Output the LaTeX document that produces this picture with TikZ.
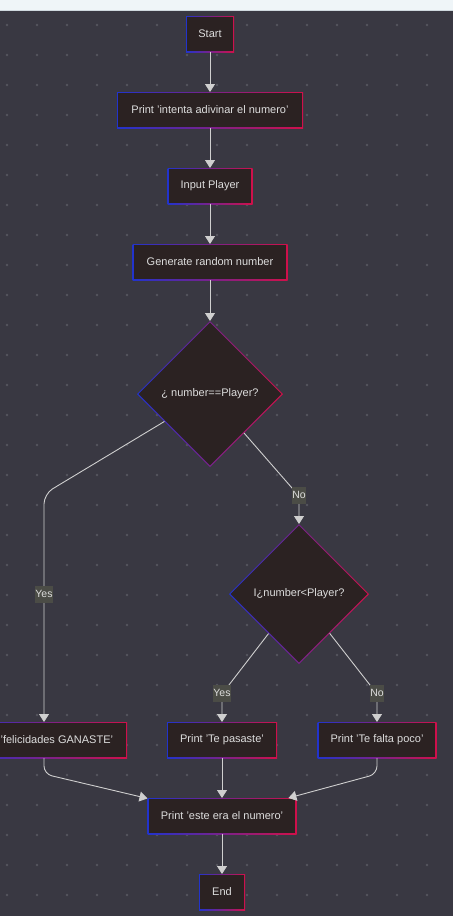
\documentclass[tikz,border=0pt]{standalone}
\usepackage{fontspec}
\setmainfont{Liberation Sans}
\usepackage{tikz}
\usetikzlibrary{shapes.geometric}
\usetikzlibrary{arrows.meta}
\definecolor{canvas}{HTML}{393842}
\definecolor{topbar}{HTML}{EFF5F8}
\definecolor{topline}{HTML}{CFD9DE}
\definecolor{dotcol}{HTML}{55555E}
\definecolor{nodefill}{HTML}{2B2222}
\definecolor{edgeblue}{HTML}{2233CC}
\definecolor{edgered}{HTML}{D0104A}
\definecolor{linecol}{HTML}{CFCFCF}
\definecolor{labelbg}{HTML}{4B4C46}
\definecolor{txtcol}{HTML}{DDDDDD}

\begin{document}
\begin{tikzpicture}[x=1pt,y=-1pt]

\tikzstyle{box}=[rectangle, minimum height=36pt, inner sep=0pt, outer sep=0pt,
  left color=edgeblue, right color=edgered, text=txtcol, font=\fontsize{11}{13}\selectfont,
  path picture={\fill[nodefill] ([shift={(1.2pt,-1.2pt)}]path picture bounding box.north west)
    rectangle ([shift={(-1.2pt,1.2pt)}]path picture bounding box.south east);}]
\tikzstyle{choice}=[diamond, aspect=1, inner sep=0pt, outer sep=0pt,
  left color=edgeblue, right color=edgered, text=txtcol, font=\fontsize{11}{13}\selectfont,
  path picture={\fill[nodefill] ([yshift=-1.7pt]path picture bounding box.north)
    -- ([xshift=-1.7pt]path picture bounding box.east) -- ([yshift=1.7pt]path picture bounding box.south)
    -- ([xshift=1.7pt]path picture bounding box.west) -- cycle;}]
\tikzstyle{flow}=[draw=linecol, line width=0.9pt, -{Triangle[width=10pt,length=8pt]}]
\tikzstyle{lbl}=[fill=labelbg, text=txtcol, font=\fontsize{10.5}{12}\selectfont,
  inner xsep=0.5pt, inner ysep=0pt, minimum height=17pt]

\useasboundingbox (0,0) rectangle (453,916);
\clip (0,0) rectangle (453,916);

% canvas
\fill[canvas] (0,10) rectangle (453,916);
\fill[topbar] (0,0) rectangle (453,10);
\draw[topline] (0,10) -- (453,10);
\foreach \x in {7,37,...,457}
  \foreach \y in {25,55,...,905}
    \fill[dotcol] (\x,\y) circle (1.4pt);

% nodes
\node[box, minimum width=48pt] at (210,34) (start) {Start};
\node[box, minimum width=186pt] at (210,110) (intro) {Print 'intenta adivinar el numero'};
\node[box, minimum width=85pt] at (210,186) (input) {Input Player};
\node[box, minimum width=155pt] at (210,262) (gen) {Generate random number};
\node[choice, minimum width=146pt, minimum height=146pt] at (210,394) (check) {¿ number==Player?};
\node[choice, minimum width=140pt, minimum height=140pt] at (299,594) (less) {I¿number<Player?};
\node[box, minimum width=166pt] at (44,740) (ganaste) {Print 'felicidades GANASTE'};
\node[box, minimum width=110pt] at (222,740) (pasaste) {Print 'Te pasaste'};
\node[box, minimum width=119pt] at (377,740) (falta) {Print 'Te falta poco'};
\node[box, minimum width=149pt] at (222,816) (este) {Print 'este era el numero'};
\node[box, minimum width=46pt] at (222,892) (end) {End};

\coordinate (yesturn) at (44,494);
\coordinate (noturn) at (299,496);
\coordinate (yesturnb) at (222,694);
\coordinate (noturnb) at (377,694);
\coordinate (ganturn) at (44,774);
\coordinate (faltaturn) at (377,774);

% connectors
\draw[flow] (start) -- (intro);
\draw[flow] (intro) -- (input);
\draw[flow] (input) -- (gen);
\draw[flow] (gen) -- (check);
\draw[flow, rounded corners=10pt] (check) -- (yesturn) -- (ganaste);
\draw[flow] (check) -- (noturn) -- (less);
\draw[flow] (less) -- (yesturnb) -- (pasaste);
\draw[flow] (less) -- (noturnb) -- (falta);
\draw[flow, rounded corners=8pt] (ganaste) -- (ganturn) -- (este);
\draw[flow] (pasaste) -- (este);
\draw[flow, rounded corners=8pt] (falta) -- (faltaturn) -- (este);
\draw[flow] (este) -- (end);

% labels
\node[lbl] at (44,594) (yeslbl) {Yes};
\node[lbl] at (299,495) (nolbl) {No};
\node[lbl] at (222,693) (yeslblb) {Yes};
\node[lbl] at (377,693) (nolblb) {No};

\end{tikzpicture}
\end{document}
